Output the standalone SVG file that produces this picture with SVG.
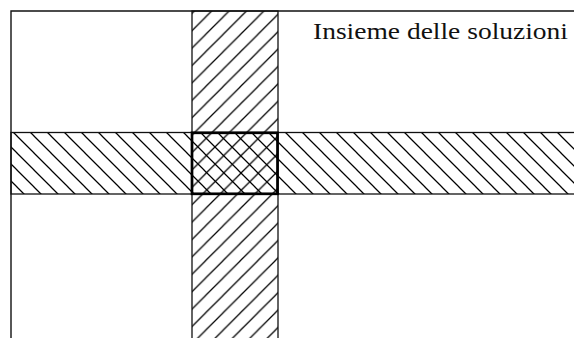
<svg xmlns="http://www.w3.org/2000/svg" width="574" height="338" viewBox="0 0 574 338">
  <style>
    .frame { fill: none; stroke: #111; stroke-width: 1.4; }
    .strip { stroke: #111; stroke-width: 1.3; }
    .inter { fill: none; stroke: #000; stroke-width: 2.7; }
    .hatch { stroke: #000; stroke-width: 1.25; fill: none; }
    .label { font-family: "Liberation Serif", "Times New Roman", serif; font-size: 24px; fill: #111; }
  </style>
  <defs>
    <pattern id="back" patternUnits="userSpaceOnUse" x="0" y="0" width="17" height="17">
      <path class="hatch" d="M-2,-2 L19,19 M-2,15 L2,19 M15,-2 L19,2"/>
    </pattern>
    <pattern id="fwd" patternUnits="userSpaceOnUse" x="13.9" y="0" width="17.4" height="17.4">
      <path class="hatch" d="M-2,19.4 L19.4,-2 M-2,2 L2,-2 M15.4,19.4 L19.4,15.4"/>
    </pattern>
  </defs>
  <rect x="0" y="0" width="574" height="338" fill="#fff"/>
  <g id="frame">
    <path class="frame" d="M11,338 L11,11 L574,11"/>
  </g>
  <g id="horizontal-strip">
    <rect class="strip" x="11" y="132.5" width="570" height="61.5" fill="url(#back)"/>
  </g>
  <g id="vertical-strip">
    <rect class="strip" x="192" y="11" width="86" height="340" fill="url(#fwd)"/>
  </g>
  <g id="intersection">
    <rect class="inter" x="192" y="132.8" width="85.5" height="61"/>
  </g>
  <g id="label">
    <text class="label" x="313" y="38.8" textLength="255" lengthAdjust="spacingAndGlyphs">Insieme delle soluzioni</text>
  </g>
</svg>
